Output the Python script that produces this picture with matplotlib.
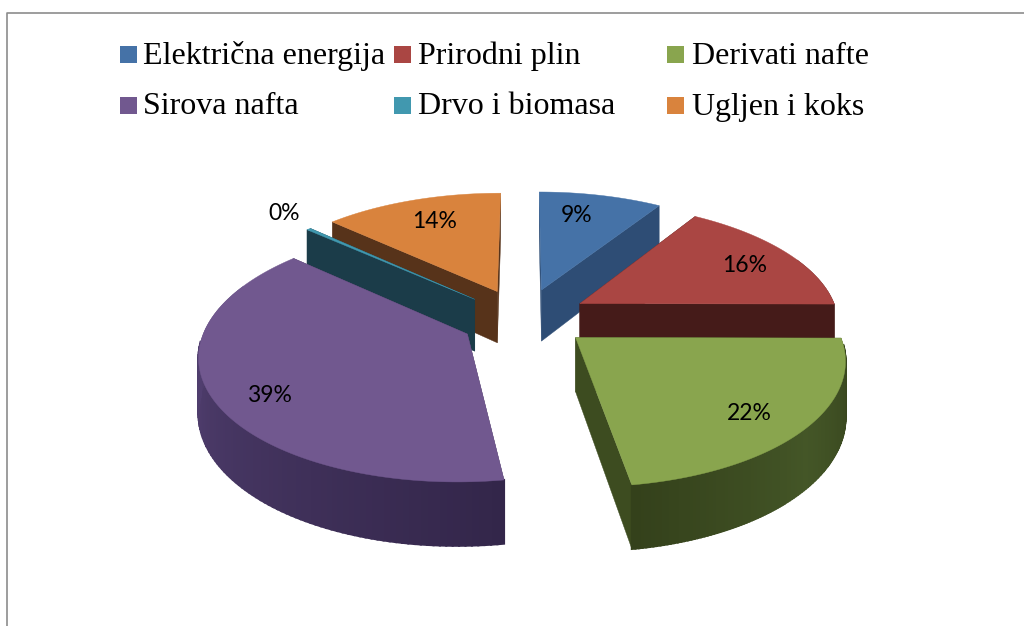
import numpy as np
import matplotlib
matplotlib.use('Agg')
import matplotlib.pyplot as plt
from matplotlib.patches import Rectangle

# Data
categories = ['Električna energija', 'Prirodni plin', 'Derivati nafte',
              'Sirova nafta', 'Drvo i biomasa', 'Ugljen i koks']
values = [9, 16, 22, 39, 0.3, 14]
labels = ['9%', '16%', '22%', '39%', '0%', '14%']

# Colours: top face, cut faces, outer wall light and dark end
top_colors = ['#4572A7', '#AA4643', '#89A54E', '#71588F', '#4198AF', '#D9833D']
cut_colors = ['#2E4D75', '#451B19', '#3D4C20', '#4A3A60', '#1B3C49', '#57331A']
wall_light = ['#2E4D75', '#451B19', '#445627', '#5E4A80', '#1B3C49', '#57331A']
wall_dark = ['#2E4D75', '#451B19', '#34411B', '#33264A', '#1B3C49', '#57331A']

# Layout
legend_x = [120, 394, 667, 120, 394, 667]
legend_y = [46, 46, 46, 97, 97, 97]
legend_text_x = [143, 418, 692, 143, 418, 692]
label_x = [577, 745, 749, 269, 284, 435]
label_y = [215, 265, 414, 395, 213, 222]
draw_order = [0, 1, 5, 4, 3, 2]
cx, cy = 524, 318
radius = 259
explode = 65
squash = 0.465
persp = 0.15
depth = 53
# the 3D view turns the slice edges a little, in degrees
warp_at = np.radians([0, 90, 170, 310, 360])
warp_by = np.radians([0, 0.5, 2.7, 3, 0])


def project(X, Y, z=0):
    s = 1 / (1 + persp * Y / radius)
    return cx + X * s, cy - squash * Y * s + z * s


fig = plt.figure(figsize=(10.24, 6.26), dpi=100)
ax = fig.add_axes([0, 0, 1, 1])
ax.set_xlim(0, 1024)
ax.set_ylim(626, 0)
ax.axis('off')

# chart frame, only left and top are in the crop
ax.plot([7, 7, 1024], [626, 13, 13], color='#8c8c8c', lw=1.2)

fractions = np.array(values) / sum(values)
ends = np.cumsum(fractions) * 2 * np.pi
starts = ends - fractions * 2 * np.pi

for i in draw_order:
    mid = (starts[i] + ends[i]) / 2
    ox = explode * np.sin(mid)
    oy = explode * np.cos(mid)
    th = np.linspace(starts[i], ends[i], 120)
    th = th + np.interp(th, warp_at, warp_by)
    X = ox + radius * np.sin(th)
    Y = oy + radius * np.cos(th)

    # cut faces
    for edge in (0, -1):
        x0, y0 = project(ox, oy)
        x1, y1 = project(ox, oy, depth)
        x2, y2 = project(X[edge], Y[edge], depth)
        x3, y3 = project(X[edge], Y[edge])
        ax.fill([x0, x1, x2, x3], [y0, y1, y2, y3], color=cut_colors[i], lw=0.3)

    # outer wall, shaded in strips
    light = np.array(matplotlib.colors.to_rgb(wall_light[i]))
    dark = np.array(matplotlib.colors.to_rgb(wall_dark[i]))
    for j in range(len(th) - 1):
        c = np.cos((th[j] + th[j + 1]) / 2)
        if c > 0.4:
            continue
        t = j / (len(th) - 2)
        col = dark + (light - dark) * t if i == 3 else light + (dark - light) * abs(2 * t - 1)
        xa, ya = project(X[j:j + 2], Y[j:j + 2])
        xb, yb = project(X[j:j + 2], Y[j:j + 2], depth)
        # thin edge on the far side so the strips do not poke out past the top face
        ax.fill([xa[0], xa[1], xb[1], xb[0]], [ya[0], ya[1], yb[1], yb[0]], color=col,
                lw=1.5 if c < -0.05 else 0.1)

    # top face
    xs, ys = project(X, Y)
    xt, yt = project(ox, oy)
    ax.fill(np.r_[xt, xs], np.r_[yt, ys], color=top_colors[i], lw=0.3)

for lab, x, y in zip(labels, label_x, label_y):
    ax.text(x, y, lab, ha='center', va='center', fontsize=16.5, family='Lato', color='black')

# legend
for i, name in enumerate(categories):
    ax.add_patch(Rectangle((legend_x[i], legend_y[i]), 17, 17, color=top_colors[i], lw=0))
    ax.text(legend_text_x[i], legend_y[i] + 10, name, ha='left', va='center',
            fontsize=23, family='Liberation Serif', color='black')

fig.savefig('out.png', dpi=100)
